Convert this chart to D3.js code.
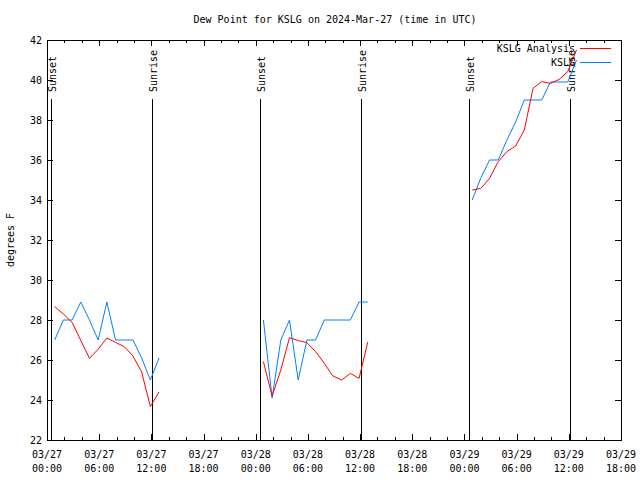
<!DOCTYPE html>
<html>
<head>
<meta charset="utf-8">
<script src="https://cdn.jsdelivr.net/npm/d3@7"></script>
<style>
  html, body { margin: 0; padding: 0; background: #fff; }
  svg { display: block; }
  text { font-family: "DejaVu Sans Mono", "Liberation Mono", monospace; font-size: 10px; fill: #000; }
</style>
</head>
<body>
<svg id="chart" width="640" height="480"></svg>
<script>
// ---- data ----
const titleText = "Dew Point for KSLG on 2024-Mar-27 (time in UTC)";
const yLabelText = "degrees F";
const seriesNames = ["KSLG Analysis", "KSLG"];

const obsTimes = [
  "2024-03-27T00:53Z","2024-03-27T01:53Z","2024-03-27T02:53Z","2024-03-27T03:53Z","2024-03-27T04:53Z",
  "2024-03-27T05:53Z","2024-03-27T06:53Z","2024-03-27T07:53Z","2024-03-27T08:53Z","2024-03-27T09:53Z",
  "2024-03-27T10:53Z","2024-03-27T11:53Z","2024-03-27T12:53Z",
  null,
  "2024-03-28T00:53Z","2024-03-28T01:53Z","2024-03-28T02:53Z","2024-03-28T03:53Z","2024-03-28T04:53Z",
  "2024-03-28T05:53Z","2024-03-28T06:53Z","2024-03-28T07:53Z","2024-03-28T08:53Z","2024-03-28T09:53Z",
  "2024-03-28T10:53Z","2024-03-28T11:53Z","2024-03-28T12:53Z",
  null,
  "2024-03-29T00:53Z","2024-03-29T01:53Z","2024-03-29T02:53Z","2024-03-29T03:53Z","2024-03-29T04:53Z",
  "2024-03-29T05:53Z","2024-03-29T06:53Z","2024-03-29T07:53Z","2024-03-29T08:53Z","2024-03-29T09:53Z",
  "2024-03-29T10:53Z","2024-03-29T11:53Z","2024-03-29T12:53Z"
];

// KSLG Analysis (red)
const analysisValues = [
  28.67, 28.3, 27.88, 26.98, 26.08, 26.54, 27.1, 26.88, 26.67, 26.2, 25.4, 23.67, 24.4,
  null,
  25.92, 24.2, 25.5, 27.12, 26.97, 26.87, 26.42, 25.83, 25.2, 25.0, 25.33, 25.08, 26.9,
  null,
  34.5, 34.58, 35.08, 35.92, 36.42, 36.7, 37.5, 39.58, 39.92, 39.83, 40.03, 40.42, 41.5
];

// KSLG observations (blue)
const obsValues = [
  27.0, 28.0, 28.0, 28.9, 28.0, 27.0, 28.9, 27.0, 27.0, 27.0, 26.1, 25.0, 26.1,
  null,
  28.0, 24.1, 27.0, 28.0, 25.0, 27.0, 27.0, 28.0, 28.0, 28.0, 28.0, 28.9, 28.9,
  null,
  34.0, 35.1, 36.0, 36.0, 37.0, 37.9, 39.0, 39.0, 39.0, 39.9, 39.9, 39.9, 41.0
];

const sunEvents = [
  { t: "2024-03-27T00:28Z", label: "Sunset" },
  { t: "2024-03-27T12:04Z", label: "Sunrise" },
  { t: "2024-03-28T00:32Z", label: "Sunset" },
  { t: "2024-03-28T12:05Z", label: "Sunrise" },
  { t: "2024-03-29T00:30Z", label: "Sunset" },
  { t: "2024-03-29T12:07Z", label: "Sunrise" }
];

const xDomain = ["2024-03-27T00:00Z", "2024-03-29T18:00Z"];
const yDomain = [22, 42];
const yTickValues = [22, 24, 26, 28, 30, 32, 34, 36, 38, 40, 42];

// ---- layout ----
const L = 47, R = 621, T = 40, B = 440;
const colors = { analysis: "#ff0000", obs: "#0080ff" };

const svg = d3.select("#chart");
const parse = s => new Date(s.replace("Z", ":00Z"));

const x = d3.scaleUtc().domain(xDomain.map(parse)).range([L, R]);
const y = d3.scaleLinear().domain(yDomain).range([B, T]);

// title
svg.append("text").attr("x", 335).attr("y", 23).attr("text-anchor", "middle").text(titleText);

// y label
svg.append("text")
  .attr("transform", "translate(14,240) rotate(-90)")
  .attr("text-anchor", "middle")
  .text(yLabelText);

const g = svg.append("g");

// ticks (inward, mirrored)
const majorX = x.ticks(d3.utcHour.every(6));
const minorX = x.ticks(d3.utcHour.every(2));
const tickG = g.append("g").attr("stroke", "#000").attr("stroke-width", 1).attr("shape-rendering", "crispEdges");
minorX.forEach(d => {
  const xx = Math.round(x(d)) + 0.5;
  const len = (d.getUTCHours() % 6 === 0) ? 6 : 3;
  tickG.append("line").attr("x1", xx).attr("x2", xx).attr("y1", B).attr("y2", B - len);
  tickG.append("line").attr("x1", xx).attr("x2", xx).attr("y1", T).attr("y2", T + len);
});
yTickValues.forEach(v => {
  const yy = Math.round(y(v)) + 0.5;
  tickG.append("line").attr("x1", L).attr("x2", L + 6).attr("y1", yy).attr("y2", yy);
  tickG.append("line").attr("x1", R).attr("x2", R - 6).attr("y1", yy).attr("y2", yy);
});

// tick labels
const fmtDate = d3.utcFormat("%m/%d");
const fmtTime = d3.utcFormat("%H:%M");
majorX.forEach(d => {
  const t = g.append("text").attr("text-anchor", "middle");
  t.append("tspan").attr("x", x(d)).attr("y", 458).text(fmtDate(d));
  t.append("tspan").attr("x", x(d)).attr("y", 472).text(fmtTime(d));
});
yTickValues.forEach(v => {
  g.append("text").attr("x", 42).attr("y", y(v)).attr("dy", "0.35em")
    .attr("text-anchor", "end").text(v);
});

// sunrise / sunset lines
sunEvents.forEach(e => {
  const xx = Math.round(x(parse(e.t))) + 0.5;
  g.append("line").attr("x1", xx).attr("x2", xx).attr("y1", B).attr("y2", 99)
    .attr("stroke", "#000").attr("stroke-width", 1).attr("shape-rendering", "crispEdges");
  g.append("text")
    .attr("transform", `translate(${xx + 1},92) rotate(-90)`)
    .attr("dy", "0.35em")
    .attr("text-anchor", "start")
    .text(e.label);
});

// border
g.append("rect").attr("x", L + 0.5).attr("y", T + 0.5).attr("width", R - L).attr("height", B - T)
  .attr("fill", "none").attr("stroke", "#000").attr("stroke-width", 1).attr("shape-rendering", "crispEdges");

// series
function makeData(values) {
  return obsTimes.map((t, i) => ({ t: t ? parse(t) : null, v: values[i] }));
}
const line = d3.line()
  .defined(d => d.t !== null && d.v !== null)
  .x(d => x(d.t))
  .y(d => y(d.v));

g.append("path").datum(makeData(obsValues))
  .attr("fill", "none").attr("stroke", colors.obs).attr("stroke-width", 1).attr("d", line);
g.append("path").datum(makeData(analysisValues))
  .attr("fill", "none").attr("stroke", colors.analysis).attr("stroke-width", 1).attr("d", line);

// legend
const legend = [
  { name: seriesNames[0], color: colors.analysis, y: 48.5 },
  { name: seriesNames[1], color: colors.obs, y: 62.5 }
];
legend.forEach(l => {
  g.append("text").attr("x", 575).attr("y", l.y).attr("dy", "0.35em").attr("text-anchor", "end").text(l.name);
  g.append("line").attr("x1", 580).attr("x2", 611).attr("y1", l.y).attr("y2", l.y)
    .attr("stroke", l.color).attr("stroke-width", 1);
});
</script>
</body>
</html>
